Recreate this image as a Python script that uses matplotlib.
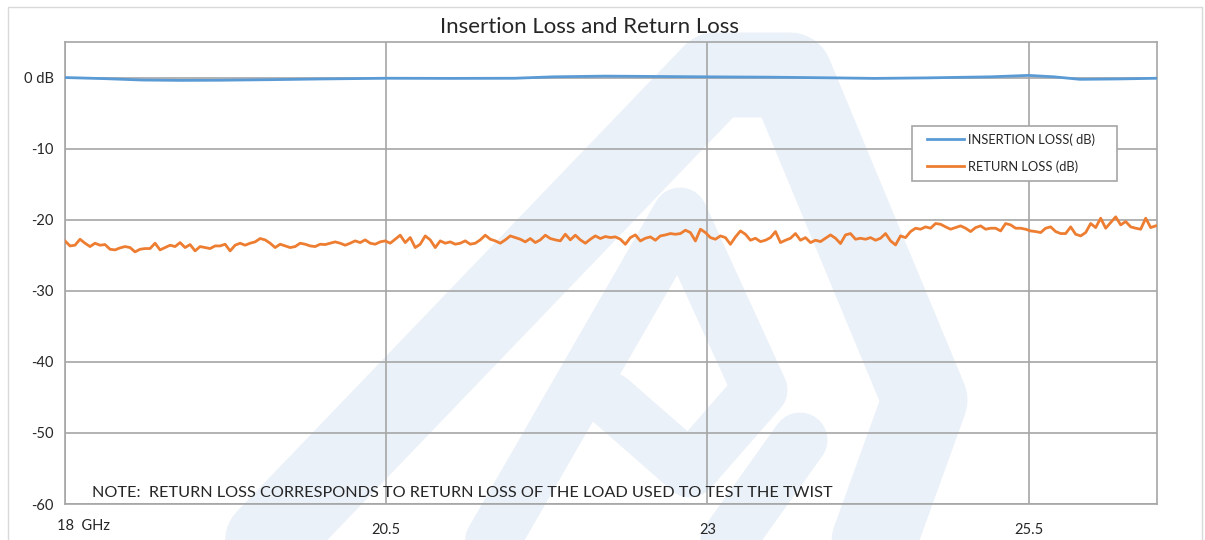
import numpy as np
import matplotlib
matplotlib.use("Agg")
from matplotlib import pyplot as plt
from matplotlib.lines import Line2D
from matplotlib.patches import Rectangle

plt.rcParams['font.family'] = ['Lato', 'DejaVu Sans']

# return loss (dB), every ~0.039 GHz from 18 to 26.49 GHz
rl_part1 = [-22.98, -23.69, -23.59, -22.75, -23.31, -23.78, -23.31, -23.59, -23.50, -24.16,
            -24.25, -23.97, -23.78, -23.92, -24.53, -24.16, -24.06, -24.06, -23.31, -24.25,
            -23.92, -23.59, -23.78, -23.22, -23.92, -23.50, -24.39, -23.78, -23.92, -24.06,
            -23.69, -23.69, -23.45, -24.39, -23.59, -23.31, -23.59, -23.31, -23.12, -22.65,
            -22.84, -23.31, -23.92, -23.45, -23.69, -23.92, -23.78, -23.31, -23.45, -23.69,
            -23.78, -23.45, -23.50, -23.31, -23.12, -23.31]
rl_part2 = [-23.59, -23.31, -22.98, -23.22, -22.84, -23.31, -23.45, -23.12, -22.98, -23.31,
            -22.75, -22.18, -23.22, -22.51, -23.92, -23.45, -22.28, -22.84, -23.92, -22.98,
            -23.31, -23.12, -23.45, -23.31, -22.98, -23.45, -23.31, -22.84, -22.18, -22.75,
            -22.98, -23.31, -22.84, -22.28, -22.51, -22.75, -23.12, -22.65, -23.22, -22.84,
            -22.18, -22.65, -22.84, -22.98, -22.04, -22.84, -22.18, -22.84, -23.31, -22.75,
            -22.28, -22.65, -22.37, -22.51]
rl_part3 = [-22.42, -22.75, -23.46, -22.52, -22.14, -22.99, -22.61, -22.42, -22.89, -22.28,
            -22.14, -21.95, -22.05, -21.95, -21.48, -21.81, -22.99, -21.34, -21.81, -22.52,
            -22.75, -22.28, -22.52, -23.46, -22.42, -21.58, -22.05, -22.89, -22.61, -23.08,
            -22.89, -22.52, -21.67, -23.22, -22.89, -22.61, -21.95, -22.89, -22.52, -23.22,
            -22.89, -23.08, -22.61, -22.14, -22.61, -23.36, -22.14, -21.95, -22.75, -22.61,
            -22.75, -22.52, -22.89, -22.61]
rl_part4 = [-21.95, -22.98, -23.55, -22.28, -22.52, -21.67, -21.20, -21.34, -21.01, -21.20,
            -20.54, -20.64, -21.01, -21.34, -21.11, -20.87, -21.20, -21.67, -21.11, -20.87,
            -21.34, -21.20, -21.20, -21.58, -20.54, -20.73, -21.20, -21.20, -21.34, -21.58,
            -21.67, -21.81, -21.20, -21.01, -21.67, -21.95, -21.95, -21.01, -22.05, -22.28,
            -21.81, -20.54, -21.11, -19.79, -21.20, -20.40, -19.60, -20.73, -20.26, -21.01,
            -21.20, -21.34, -19.79, -21.11, -20.87]
return_loss = rl_part1 + rl_part2 + rl_part3 + rl_part4
rl_freq = np.linspace(18.0, 26.49, len(return_loss))

# insertion loss (dB), smooth trace
il_freq = [18.0, 18.3, 18.6, 18.9, 19.2, 19.6, 20.0, 20.5, 21.0, 21.5, 21.8, 22.2,
           22.6, 23.0, 23.5, 24.0, 24.3, 24.7, 25.2, 25.5, 25.7, 25.9, 26.2, 26.5]
insertion_loss = [0.0, -0.15, -0.35, -0.4, -0.38, -0.3, -0.2, -0.1, -0.12, -0.1, 0.1, 0.2,
                  0.15, 0.1, 0.05, -0.05, -0.12, -0.05, 0.1, 0.3, 0.1, -0.25, -0.2, -0.1]

y_ticks = [0, -10, -20, -30, -40, -50, -60]
y_labels = ['0 dB', '-10', '-20', '-30', '-40', '-50', '-60']
x_ticks = [18, 20.5, 23, 25.5]
x_labels = ['', '20.5', '23', '25.5']

W, H = 1205, 540
fig = plt.figure(figsize=(W / 100, H / 100), dpi=100)

# faint logo watermark behind the chart
wm = '#ebf1f9'
def stroke(pts, lw):
    xs = [p[0] / W for p in pts]
    ys = [1 - p[1] / H for p in pts]
    fig.add_artist(Line2D(xs, ys, color=wm, lw=lw * 0.72, solid_capstyle='round',
                          solid_joinstyle='round', zorder=0))

stroke([(230, 580), (715, 75), (790, 75), (925, 400), (860, 580)], 85)
stroke([(470, 580), (680, 215), (760, 390), (690, 470), (610, 400)], 55)
stroke([(700, 580), (800, 440)], 55)

# outer chart frame
fig.add_artist(Rectangle((8 / W, -0.05), (1202 - 8) / W, 1.05 - 7 / H,
                         fill=False, edgecolor='#d9d9d9', lw=1, zorder=0))

ax = fig.add_axes([65 / W, 1 - 504 / H, (1157 - 65) / W, (504 - 42) / H])
ax.patch.set_alpha(0)

ax.plot(il_freq, insertion_loss, color='#5b9bd5', lw=2.0, label='INSERTION LOSS( dB)', zorder=3)
ax.plot(rl_freq, return_loss, color='#ed7d31', lw=2.0, label='RETURN LOSS (dB)', zorder=3)

ax.set_xlim(18, 26.5)
ax.set_ylim(-60, 5)
ax.set_yticks(y_ticks)
ax.set_yticklabels(y_labels)
ax.set_xticks(x_ticks)
ax.set_xticklabels(x_labels)
ax.tick_params(length=0, labelsize=10.5, colors='#262626')
ax.tick_params(axis='y', pad=8)
ax.tick_params(axis='x', pad=14)
ax.grid(True, color='#a6a6a6', lw=1.2)
ax.set_axisbelow(True)
for s in ax.spines.values():
    s.set_color('#a6a6a6')
    s.set_linewidth(1.2)

fig.text(57 / W, 1 - 526 / H, '18  GHz', fontsize=10.5, color='#262626', va='center', ha='left')
fig.text(590 / W, 1 - 27 / H, 'Insertion Loss and Return Loss', fontsize=16,
         color='#262626', ha='center', va='center')
fig.text(92 / W, 1 - 493 / H,
         'NOTE:  RETURN LOSS CORRESPONDS TO RETURN LOSS OF THE LOAD USED TO TEST THE TWIST',
         fontsize=11.7, color='#262626', va='center', ha='left')

# legend box drawn separately so its size matches the original
box = Rectangle((912 / W, 1 - 181 / H), (1117 - 912) / W, 55 / H, transform=fig.transFigure,
                facecolor='white', edgecolor='#a6a6a6', lw=1.2, zorder=4, clip_on=False)
ax.add_artist(box)
leg = ax.legend(loc='upper left', bbox_to_anchor=(927 / W, 1 - 133 / H),
                bbox_transform=fig.transFigure, fontsize=9.3, frameon=False,
                handlelength=2.9, borderpad=0.0, labelspacing=1.15, handletextpad=0.3,
                borderaxespad=0)
leg.set_zorder(5)
for t in leg.get_texts():
    t.set_color('#262626')

fig.savefig('out.png', dpi=100)
